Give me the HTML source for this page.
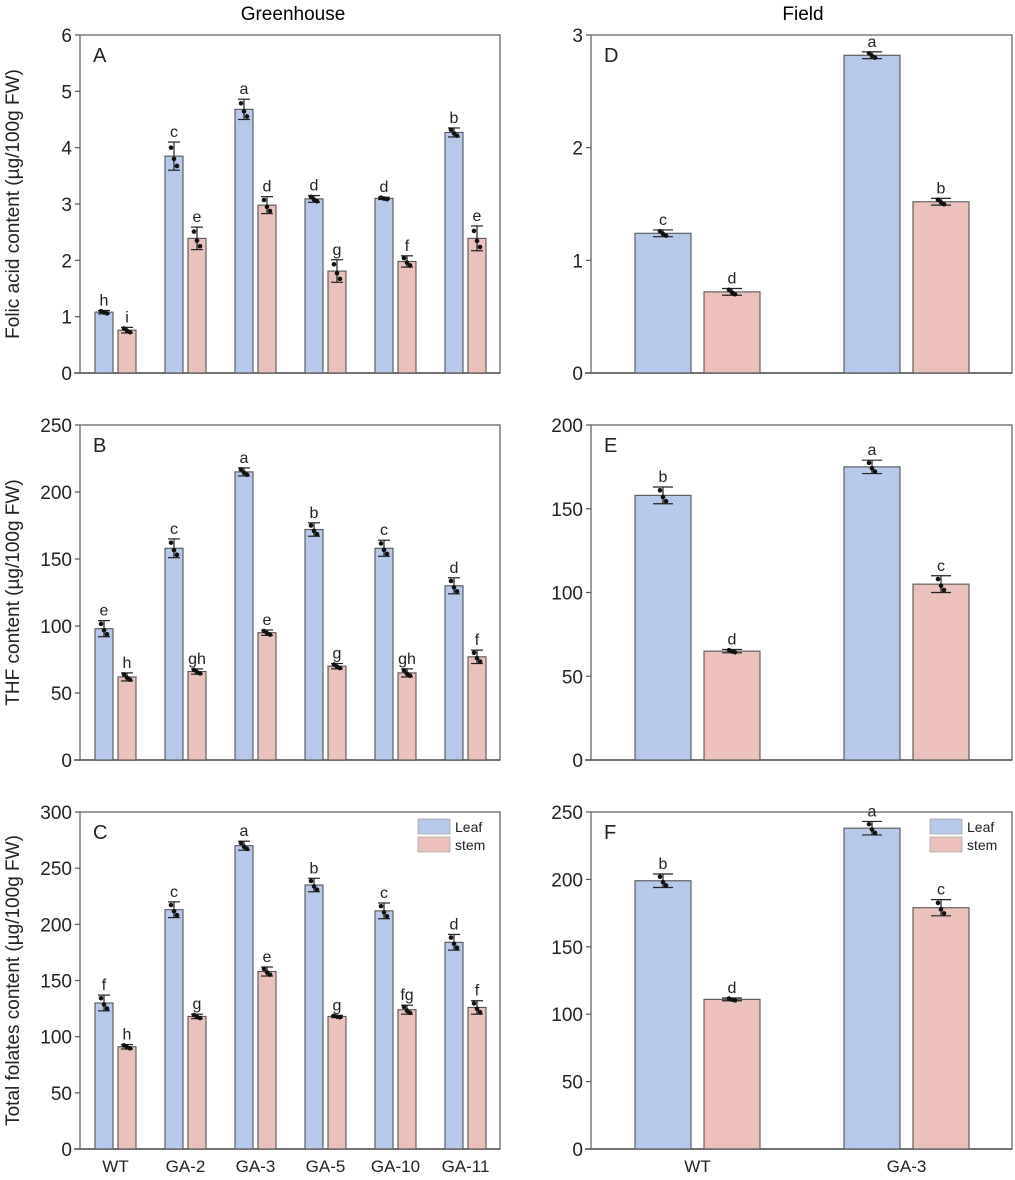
<!DOCTYPE html>
<html><head><meta charset="utf-8">
<style>
html,body{margin:0;padding:0;background:#fff;}
svg{display:block;font-family:"Liberation Sans",sans-serif;}
</style></head>
<body>
<svg id="fig" width="1015" height="1180" viewBox="0 0 1015 1180">
<text x="293" y="20" font-size="19" text-anchor="middle">Greenhouse</text>
<text x="803" y="20" font-size="19" text-anchor="middle">Field</text>
</svg>
<script>
// Greenhouse categories
const ghCats = ["WT","GA-2","GA-3","GA-5","GA-10","GA-11"];
const fCats = ["WT","GA-3"];
// Panel A
const aLeaf = [1.08,3.85,4.68,3.09,3.10,4.27];
const aLeafErr = [0.03,0.25,0.18,0.06,0.02,0.08];
const aStem = [0.76,2.39,2.98,1.81,1.98,2.39];
const aStemErr = [0.05,0.2,0.15,0.2,0.1,0.22];
const aLeafLet = ["h","c","a","d","d","b"];
const aStemLet = ["i","e","d","g","f","e"];
const aTicks = [0,1,2,3,4,5,6];
// Panel B
const bLeaf = [98,158,215,172,158,130];
const bLeafErr = [6,7,3,5,6,6];
const bStem = [62,66,95,70,65,77];
const bStemErr = [3,2,2,2,3,5];
const bLeafLet = ["e","c","a","b","c","d"];
const bStemLet = ["h","gh","e","g","gh","f"];
const bTicks = [0,50,100,150,200,250];
// Panel C
const cLeaf = [130,213,270,235,212,184];
const cLeafErr = [7,7,4,6,7,7];
const cStem = [91,118,158,118,124,126];
const cStemErr = [2,2,4,1,4,6];
const cLeafLet = ["f","c","a","b","c","d"];
const cStemLet = ["h","g","e","g","fg","f"];
const cTicks = [0,50,100,150,200,250,300];
// Panel D
const dLeaf = [1.24,2.82];
const dLeafErr = [0.03,0.03];
const dStem = [0.72,1.52];
const dStemErr = [0.03,0.03];
const dLeafLet = ["c","a"];
const dStemLet = ["d","b"];
const dTicks = [0,1,2,3];
// Panel E
const eLeaf = [158,175];
const eLeafErr = [5,4];
const eStem = [65,105];
const eStemErr = [1,5];
const eLeafLet = ["b","a"];
const eStemLet = ["d","c"];
const eTicks = [0,50,100,150,200];
// Panel F
const fLeaf = [199,238];
const fLeafErr = [5,5];
const fStem = [111,179];
const fStemErr = [1,6];
const fLeafLet = ["b","a"];
const fStemLet = ["d","c"];
const fTicks = [0,50,100,150,200,250];

const NS="http://www.w3.org/2000/svg";
const svg=document.getElementById('fig');
function mk(tag,attrs,parent){const e=document.createElementNS(NS,tag);for(const k in attrs)e.setAttribute(k,attrs[k]);(parent||svg).appendChild(e);return e;}
const LEAF="#b6c8eb", STEM="#ecc0bb", EDGE="#555";

function panel(o){
  const g=mk('g',{});
  
  
  const ymax=o.ticks[o.ticks.length-1];
  const y=v=>o.bottom-(v/ymax)*(o.bottom-o.top);
  const box=mk('rect',{x:o.left,y:o.top,width:o.right-o.left,height:o.bottom-o.top,fill:'none',stroke:'#666','stroke-width':1.3},g);
  
  
  mk('line',{x1:o.left-6,x2:o.right,y1:o.bottom,y2:o.bottom,stroke:'#555','stroke-width':1.5},g);
  o.ticks.forEach(t=>{
    mk('line',{x1:o.left-5,x2:o.left,y1:y(t),y2:y(t),stroke:'#555','stroke-width':1.2},g);
    const tx=mk('text',{x:o.left-8,y:y(t)+7,'font-size':19,'text-anchor':'end',fill:'#222'},g);
    tx.textContent=t;
    
    
  });
  const pl=mk('text',{x:o.left+13,y:o.top+27,'font-size':20,fill:'#222'},g);
  pl.textContent=o.letter;
  
  
  if(o.ylabel){
    const cy=(o.top+o.bottom)/2;
    const yl=mk('text',{x:19,y:cy,'font-size':19,'text-anchor':'middle',transform:`rotate(-90 19 ${cy})`,fill:'#222'},g);
    yl.textContent=o.ylabel;
    
    
  }
  const series=[[o.leaf,o.leafErr,o.leafLet,LEAF,0,'leaf'],[o.stem,o.stemErr,o.stemLet,STEM,1,'stem']];
  o.cats.forEach((c,i)=>{
    series.forEach(s=>{
      const v=s[0][i], e=s[1][i];
      const x0=o.x0+i*o.pitch+s[4]*(o.bw+o.gap);
      const r=mk('rect',{x:x0,y:y(v),width:o.bw,height:o.bottom-y(v),fill:s[3],stroke:EDGE,'stroke-width':1.1},g);
      
      
      const cx=x0+o.bw/2, hw=o.capw;
      mk('line',{x1:cx,x2:cx,y1:y(v+e),y2:y(v-e),stroke:'#222','stroke-width':1.2},g);
      mk('line',{x1:cx-hw,x2:cx+hw,y1:y(v+e),y2:y(v+e),stroke:'#222','stroke-width':1.2},g);
      mk('line',{x1:cx-hw,x2:cx+hw,y1:y(v-e),y2:y(v-e),stroke:'#222','stroke-width':1.2},g);
      [[-3,0.6],[0,-0.2],[3,-0.7]].forEach(d=>{
        const dot=mk('circle',{cx:cx+d[0],cy:y(v+d[1]*e),r:2.3,fill:'#111'},g);
        
        
      });
      const lt=mk('text',{x:cx,y:y(v+e)-5,'font-size':16,'text-anchor':'middle',fill:'#222'},g);
      lt.textContent=s[2][i];
      
      
    });
    if(o.xlabels){
      const cx=o.x0+i*o.pitch+o.bw+o.gap/2;
      const xl=mk('text',{x:cx,y:o.bottom+23,'font-size':17,'text-anchor':'middle',fill:'#222'},g);
      xl.textContent=c;
      
      
    }
  });
  if(o.legend){
    const lx=o.right-82, ly=o.top+7;
    [['Leaf',LEAF],['stem',STEM]].forEach((L,k)=>{
      const lr=mk('rect',{x:lx,y:ly+k*18,width:32,height:15,fill:L[1],stroke:'#aaa','stroke-width':0.8},g);
      
      
      const lt=mk('text',{x:lx+37,y:ly+k*18+13,'font-size':14,fill:'#222'},g);
      lt.textContent=L[0];
      
      
    });
  }
}
const GH={left:80,right:500,x0:95,pitch:70,bw:18,gap:5,capw:6,cats:ghCats};
const FD={left:591,right:1012,x0:635,pitch:209,bw:56,gap:13,capw:10,cats:fCats};
panel(Object.assign({},GH,{letter:'A',top:35,bottom:373,ticks:aTicks,leaf:aLeaf,leafErr:aLeafErr,stem:aStem,stemErr:aStemErr,leafLet:aLeafLet,stemLet:aStemLet,ylabel:'Folic acid content (µg/100g FW)'}));
panel(Object.assign({},GH,{letter:'B',top:425,bottom:760,ticks:bTicks,leaf:bLeaf,leafErr:bLeafErr,stem:bStem,stemErr:bStemErr,leafLet:bLeafLet,stemLet:bStemLet,ylabel:'THF content (µg/100g FW)'}));
panel(Object.assign({},GH,{letter:'C',top:812,bottom:1149,ticks:cTicks,leaf:cLeaf,leafErr:cLeafErr,stem:cStem,stemErr:cStemErr,leafLet:cLeafLet,stemLet:cStemLet,ylabel:'Total folates content (µg/100g FW)',xlabels:true,legend:true}));
panel(Object.assign({},FD,{letter:'D',top:35,bottom:373,ticks:dTicks,leaf:dLeaf,leafErr:dLeafErr,stem:dStem,stemErr:dStemErr,leafLet:dLeafLet,stemLet:dStemLet}));
panel(Object.assign({},FD,{letter:'E',top:425,bottom:760,ticks:eTicks,leaf:eLeaf,leafErr:eLeafErr,stem:eStem,stemErr:eStemErr,leafLet:eLeafLet,stemLet:eStemLet}));
panel(Object.assign({},FD,{letter:'F',top:812,bottom:1149,ticks:fTicks,leaf:fLeaf,leafErr:fLeafErr,stem:fStem,stemErr:fStemErr,leafLet:fLeafLet,stemLet:fStemLet,xlabels:true,legend:true}));
</script>
</body></html>
